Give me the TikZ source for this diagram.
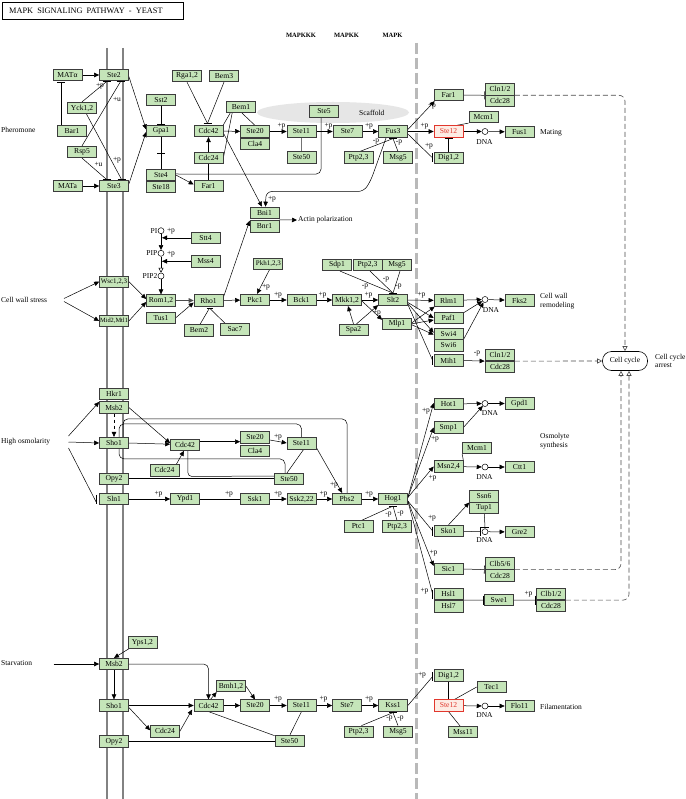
\documentclass[tikz,border=0pt]{standalone}
\usepackage{fontspec}
\setmainfont{Liberation Serif}
\usetikzlibrary{arrows.meta,calc}
\pgfdeclarelayer{back}
\pgfdeclarelayer{edges}
\pgfsetlayers{back,edges,main}
\definecolor{kgreen}{RGB}{197,229,185}
\definecolor{kedge}{RGB}{60,60,60}
\definecolor{kmemb}{RGB}{130,130,130}
\definecolor{knuc}{RGB}{185,185,185}
\definecolor{kred}{RGB}{225,55,45}
\definecolor{kpink}{RGB}{253,236,228}
\definecolor{kscaf}{RGB}{230,230,230}
\newcommand\kbh[1]{\draw[barst] ($(#1)+(-4,0)$) -- ($(#1)+(4,0)$);}
\newcommand\kbv[1]{\draw[barst] ($(#1)+(0,-4.5)$) -- ($(#1)+(0,4.5)$);}
\begin{document}
\begin{tikzpicture}[x=1pt,y=-1pt,
 gb/.style={draw=kedge,fill=kgreen,line width=0.7pt,minimum width=29pt,minimum height=11.5pt,inner sep=0pt,font=\fontsize{7.6}{8}\selectfont},
 rb/.style={gb,draw=kred,fill=kpink,text=kred},
 lab/.style={inner sep=0pt,font=\fontsize{7.5}{8}\selectfont},
 txt/.style={inner sep=0pt,anchor=west,align=left,font=\fontsize{7.5}{8.5}\selectfont},
 ar/.style={line width=0.5pt,-{Triangle[length=5pt,width=4.5pt]}},
 inh/.style={line width=0.5pt,-{Bar[width=8pt,line width=0.6pt]}},
 ln/.style={line width=0.5pt},
 barst/.style={line width=0.6pt},
 dsh/.style={line width=0.6pt,draw=black!70,dash pattern=on 5pt off 3pt,-{Triangle[open,length=5pt,width=5pt]}},
 dna/.style={circle,draw,line width=0.5pt,inner sep=0pt,minimum size=6pt,fill=white},
 hdr/.style={inner sep=0pt,font=\bfseries\fontsize{6.5}{7}\selectfont}
]
\useasboundingbox (0,0) rectangle (685,799);
\begin{pgfonlayer}{back}
\fill[white] (0,0) rectangle (685,799);
\draw[kmemb,line width=2.6pt] (107,48) -- (107,799);
\draw[kmemb,line width=2.6pt] (123,48) -- (123,799);
\draw[knuc,line width=3pt,dash pattern=on 11pt off 4pt] (416.5,43) -- (416.5,799);
\fill[kscaf] (333,112.5) ellipse [x radius=76pt, y radius=10.5pt];
\draw[line width=0.9pt] (2,2) rectangle (183,19);
\end{pgfonlayer}

\node[anchor=west,inner sep=0pt,font=\fontsize{8.3}{9}\selectfont] (title) at (9,11) {MAPK\ \ SIGNALING\ \ PATHWAY\ \ -\ \ YEAST};
\node[hdr] (hk3) at (301,35) {MAPKKK};
\node[hdr] (hk2) at (346.5,35) {MAPKK};
\node[hdr] (hk1) at (392.5,35) {MAPK};
\node[txt] (scaf) at (359,113) {Scaffold};

% stimulus labels
\node[txt] (pher) at (1,130) {Pheromone};
\node[txt] (cws) at (1,300) {Cell wall stress};
\node[txt] (hos) at (1,442) {High osmolarity};
\node[txt] (starv) at (1,663.5) {Starvation};

% ---------- pheromone ----------
\node[gb] (MATal) at (67.5,75) {MATα};
\node[gb] (Ste2) at (114,75) {Ste2};
\node[gb] (Yck) at (82,108) {Yck1,2};
\node[gb] (Bar1) at (72,131) {Bar1};
\node[gb] (Rsp5) at (82,152) {Rsp5};
\node[gb] (MATa) at (67.5,186) {MATa};
\node[gb] (Ste3) at (114,186) {Ste3};
\node[gb] (Sst2) at (161,100) {Sst2};
\node[gb] (Gpa1) at (161,131) {Gpa1};
\node[gb] (Ste4) at (161,175) {Ste4};
\node[gb] (Ste18) at (161,187) {Ste18};
\node[gb] (Rga) at (187,76) {Rga1,2};
\node[gb] (Bem3) at (224,76) {Bem3};
\node[gb] (Cdc42a) at (208.5,131) {Cdc42};
\node[gb] (Cdc24a) at (208.5,158) {Cdc24};
\node[gb] (Far1a) at (208.5,186) {Far1};
\node[gb] (Bem1) at (241,107) {Bem1};
\node[gb] (Ste5) at (324,111.5) {Ste5};
\node[gb] (Ste20a) at (255,131.5) {Ste20};
\node[gb] (Cla4a) at (255,144) {Cla4};
\node[gb] (Ste11a) at (301.5,131.5) {Ste11};
\node[gb] (Ste50a) at (301.5,157.5) {Ste50};
\node[gb] (Ste7a) at (347.5,131.5) {Ste7};
\node[gb] (Fus3) at (393,131.5) {Fus3};
\node[gb] (Ptp23a) at (358.5,157.5) {Ptp2,3};
\node[gb] (Msg5a) at (398,157.5) {Msg5};
\node[gb] (Far1b) at (448.5,95) {Far1};
\node[rb] (Ste12a) at (448.5,131.5) {Ste12};
\node[gb] (Dig12a) at (448.5,158) {Dig1,2};
\node[gb] (Cln12a) at (500,89.2) {Cln1/2};
\node[gb] (Cdc28a) at (500,101) {Cdc28};
\node[gb] (Mcm1a) at (483.5,117) {Mcm1};
\node[dna] (DNA1) at (485,131.5) {};
\node[gb] (Fus1) at (519.5,132) {Fus1};
\node[lab] (dna1l) at (484.5,142) {DNA};
\node[txt] (mating) at (540,133) {Mating};
\node[gb] (Bni1) at (264.5,212.8) {Bni1};
\node[gb] (Bnr1) at (264.5,226.3) {Bnr1};
\node[txt] (actin) at (298,220) {Actin polarization};

% ---------- cell wall ----------
\node[dna] (PI) at (161,230.7) {};
\node[dna] (PIP) at (161,253.3) {};
\node[dna] (PIP2) at (161,276) {};
\node[lab,anchor=east] (PIl) at (157.5,230.7) {PI};
\node[lab,anchor=east] (PIPl) at (157.5,253.3) {PIP};
\node[lab,anchor=east] (PIP2l) at (157.5,276) {PIP2};
\node[gb] (Stt4) at (205.5,237.8) {Stt4};
\node[gb] (Mss4) at (205.5,261.3) {Mss4};
\node[gb,font=\fontsize{7}{8}\selectfont] (Wsc) at (114,281.7) {Wsc1,2,3};
\node[gb,font=\fontsize{6.4}{7}\selectfont] (Mid2) at (114,321) {Mid2,Mtl1};
\node[gb] (Rom12) at (161,300.5) {Rom1,2};
\node[gb] (Tus1) at (161,317.7) {Tus1};
\node[gb] (Rho1) at (208.5,300.5) {Rho1};
\node[gb] (Bem2) at (199,330.5) {Bem2};
\node[gb] (Sac7) at (235,329.5) {Sac7};
\node[gb,font=\fontsize{7}{8}\selectfont] (Pkh) at (268.3,264) {Pkh1,2,3};
\node[gb] (Pkc1) at (255,300) {Pkc1};
\node[gb] (Bck1) at (301.5,300) {Bck1};
\node[gb] (Mkk12) at (347,300) {Mkk1,2};
\node[gb] (Spa2) at (353.5,330) {Spa2};
\node[gb] (Slt2) at (393,300) {Slt2};
\node[gb] (Mlp1) at (397,323.8) {Mlp1};
\node[gb] (Sdp1) at (337,265) {Sdp1};
\node[gb] (Ptp23b) at (367.5,265) {Ptp2,3};
\node[gb] (Msg5b) at (397,265) {Msg5};
\node[gb] (Rlm1) at (448.5,300.5) {Rlm1};
\node[gb] (Paf1) at (448.5,318) {Paf1};
\node[gb] (Swi4) at (448.5,333.7) {Swi4};
\node[gb] (Swi6) at (448.5,345.3) {Swi6};
\node[gb] (Mih1) at (448.5,360.5) {Mih1};
\node[dna] (DNA2) at (485,299.5) {};
\node[gb] (Fks2) at (519.5,300.5) {Fks2};
\node[lab] (dna2l) at (491,310) {DNA};
\node[txt,font=\fontsize{7.5}{9}\selectfont] (cwr) at (540,301) {Cell wall\\remodeling};
\node[gb] (Cln12b) at (500,355) {Cln1/2};
\node[gb] (Cdc28b) at (500,367) {Cdc28};
\node[draw,fill=white,rounded corners=9pt,minimum width=45pt,minimum height=19pt,inner sep=0pt,line width=0.6pt,font=\fontsize{7.5}{8}\selectfont] (cc) at (625,361) {Cell cycle};
\node[txt,font=\fontsize{7.5}{8.5}\selectfont] (cca) at (655,361) {Cell cycle\\arrest};

% ---------- high osmolarity ----------
\node[gb] (Hkr1) at (114,394) {Hkr1};
\node[gb] (Msb2a) at (114,407.5) {Msb2};
\node[gb] (Sho1a) at (114,443) {Sho1};
\node[gb] (Opy2a) at (114,478.7) {Opy2};
\node[gb] (Sln1) at (114,499) {Sln1};
\node[gb] (Cdc42b) at (185,444.7) {Cdc42};
\node[gb] (Cdc24b) at (164.5,470.3) {Cdc24};
\node[gb] (Ypd1) at (185,499) {Ypd1};
\node[gb] (Ste20b) at (255,437.5) {Ste20};
\node[gb] (Cla4b) at (255,451) {Cla4};
\node[gb] (Ste11b) at (301.5,443.5) {Ste11};
\node[gb] (Ste50b) at (289,479) {Ste50};
\node[gb] (Ssk1) at (255,499) {Ssk1};
\node[gb] (Ssk22) at (301.5,499) {Ssk2,22};
\node[gb] (Pbs2) at (347,499) {Pbs2};
\node[gb] (Hog1) at (393,499) {Hog1};
\node[gb] (Ptc1) at (358.5,526.5) {Ptc1};
\node[gb] (Ptp23c) at (397,526.5) {Ptp2,3};
\node[gb] (Hot1) at (448.5,404) {Hot1};
\node[gb] (Smp1) at (448.5,427.5) {Smp1};
\node[gb] (Msn24) at (448.5,466.5) {Msn2,4};
\node[gb] (Sko1) at (448.5,531) {Sko1};
\node[gb] (Sic1) at (448.5,569) {Sic1};
\node[gb] (Hsl1) at (448.5,594) {Hsl1};
\node[gb] (Hsl7) at (448.5,606.2) {Hsl7};
\node[dna] (DNA3) at (485,403.5) {};
\node[gb] (Gpd1) at (519.5,403.5) {Gpd1};
\node[lab] (dna3l) at (490,413) {DNA};
\node[txt,font=\fontsize{7.5}{8.5}\selectfont] (osm) at (540,441) {Osmolyte\\synthesis};
\node[gb] (Mcm1b) at (477,448) {Mcm1};
\node[dna] (DNA4) at (485,467) {};
\node[gb] (Ctt1) at (519.5,467) {Ctt1};
\node[lab] (dna4l) at (484.5,477) {DNA};
\node[gb] (Ssn6) at (484,496.5) {Ssn6};
\node[gb] (Tup1) at (484,508) {Tup1};
\node[dna] (DNA5) at (485,531.7) {};
\node[gb] (Gre2) at (519.5,532) {Gre2};
\node[lab] (dna5l) at (484.5,540.5) {DNA};
\node[gb] (Clb56) at (500,563.5) {Clb5/6};
\node[gb] (Cdc28c) at (500,575.5) {Cdc28};
\node[gb] (Swe1) at (499,600) {Swe1};
\node[gb] (Clb12) at (551,594) {Clb1/2};
\node[gb] (Cdc28d) at (551,606) {Cdc28};

% ---------- starvation ----------
\node[gb] (Yps12) at (142.5,642.5) {Yps1,2};
\node[gb] (Msb2b) at (114,664) {Msb2};
\node[gb] (Sho1b) at (114,705.5) {Sho1};
\node[gb] (Opy2b) at (114,741.3) {Opy2};
\node[gb] (Cdc42c) at (208.5,705.5) {Cdc42};
\node[gb] (Cdc24c) at (165,731.3) {Cdc24};
\node[gb] (Bmh12) at (231,686) {Bmh1,2};
\node[gb] (Ste20c) at (255,705.5) {Ste20};
\node[gb] (Ste11c) at (301.5,705.5) {Ste11};
\node[gb] (Ste50c) at (289.5,740.8) {Ste50};
\node[gb] (Ste7c) at (347,705.5) {Ste7};
\node[gb] (Kss1) at (393,705.5) {Kss1};
\node[gb] (Ptp23d) at (358.5,731.7) {Ptp2,3};
\node[gb] (Msg5c) at (398,731.7) {Msg5};
\node[gb] (Dig12b) at (448.5,675.5) {Dig1,2};
\node[rb] (Ste12b) at (448.5,705.5) {Ste12};
\node[gb] (Tec1) at (491.5,687) {Tec1};
\node[gb] (Mss11) at (463,732) {Mss11};
\node[dna] (DNA6) at (485,706) {};
\node[gb] (Flo11) at (519.5,706) {Flo11};
\node[lab] (dna6l) at (484.5,715.5) {DNA};
\node[txt] (fil) at (540,706.5) {Filamentation};

% ---------- edge labels ----------
\node[lab] (q1) at (100,86.5) {+p};
\node[lab] (q2) at (117,99.5) {+u};
\node[lab] (q3) at (117,160) {+p};
\node[lab] (q4) at (98.5,164) {+u};
\node[lab] (q5) at (272,199) {+p};
\node[lab] (q6) at (281.5,126) {+p};
\node[lab] (q7) at (328.5,126) {+p};
\node[lab] (q8) at (369,126) {+p};
\node[lab] (q9) at (376,142) {-p};
\node[lab] (q10) at (399,142.5) {-p};
\node[lab] (q11) at (432,106.5) {+p};
\node[lab] (q12) at (424.5,126) {+p};
\node[lab] (q13) at (429,146) {+p};
\node[lab] (q14) at (171,231) {+p};
\node[lab] (q15) at (171,254) {+p};
\node[lab] (q16) at (266,287) {+p};
\node[lab] (q17) at (278,295.5) {+p};
\node[lab] (q18) at (322.5,295.5) {+p};
\node[lab] (q19) at (368.5,295.5) {+p};
\node[lab] (q20) at (377,313.5) {+p};
\node[lab] (q21) at (365,286.5) {-p};
\node[lab] (q22) at (386,280) {-p};
\node[lab] (q23) at (398.5,286.5) {-p};
\node[lab] (q24) at (421.5,295.5) {+p};
\node[lab] (q25) at (477,354) {-p};
\node[lab] (q26) at (278,437) {+p};
\node[lab] (q27) at (334,485) {+p};
\node[lab] (q28) at (158.5,494.5) {+p};
\node[lab] (q29) at (229,494) {+p};
\node[lab] (q30) at (278,494.5) {+p};
\node[lab] (q31) at (323.5,494.5) {+p};
\node[lab] (q32) at (369,494.5) {+p};
\node[lab] (q33) at (388.5,515) {-p};
\node[lab] (q34) at (400.5,513.5) {-p};
\node[lab] (q35) at (426,411.5) {+p};
\node[lab] (q36) at (435,439.5) {+p};
\node[lab] (q37) at (432.5,478.5) {+p};
\node[lab] (q38) at (432,518.5) {+p};
\node[lab] (q39) at (433.5,553.5) {+p};
\node[lab] (q40) at (424.5,591) {+p};
\node[lab] (q41) at (528.5,594) {+p};
\node[lab] (q42) at (278,699.5) {+p};
\node[lab] (q43) at (323.5,699.5) {+p};
\node[lab] (q44) at (369,699.5) {+p};
\node[lab] (q45) at (389.5,718.5) {-p};
\node[lab] (q46) at (400.5,718.5) {-p};
\node[lab] (q47) at (422,675) {+p};

\begin{pgfonlayer}{edges}
% pheromone
\draw[ar] (MATal) -- (Ste2);
\draw[ar] (MATa) -- (Ste3);
\coordinate (bMA) at ($(MATal.south)+(-6.5,1.5)$);
\draw[ln] ($(Bar1.north)+(-11,0)$) -- (bMA); \kbh{bMA}
\coordinate (bS2a) at ($(Ste2.south)+(-7.5,0.5)$);
\coordinate (bS2b) at ($(Ste2.south)+(6.5,0.5)$);
\coordinate (bS3a) at ($(Ste3.north)+(-7.5,-0.5)$);
\coordinate (bS3b) at ($(Ste3.north)+(7.5,-0.5)$);
\draw[ln] (Yck.north) -- (bS2a); \kbh{bS2a}
\draw[ln] (Rsp5.north) -- (bS2b); \kbh{bS2b}
\draw[ln] ($(Yck.south)+(4.5,0)$) -- (bS3b); \kbh{bS3b}
\draw[ln] (Rsp5.south) -- (bS3a); \kbh{bS3a}
\draw[ar] ($(Ste2.east)+(0,1.5)$) -- ($(Gpa1.west)+(0,-1.5)$);
\draw[ar] ($(Ste3.east)+(0,-2)$) -- ($(Gpa1.west)+(0,1)$);
\draw[inh] (Sst2) -- (Gpa1);
\draw[ln] (Gpa1) -- (Ste4);
\coordinate (bG) at ($(Gpa1.south)!0.5!(Ste4.north)$); \kbh{bG}
\coordinate (bC42) at ($(Cdc42a.north)+(-1,-1.5)$);
\draw[ln] (Rga.south) -- (bC42);
\draw[ln] (Bem3.south) -- (bC42); \kbh{bC42}
\draw[ar] (Cdc24a) -- (Cdc42a);
\draw[ln] (Cdc24a) -- (Far1a);
\draw[ar] (Ste4.east) -- ($(Far1a.west)+(0,-1.5)$);
\draw[ln,rounded corners=5pt] ($(Ste4.east)+(0,-1)$) -- ($(Ste5.south)+(-3,56.5)$) -- ($(Ste5.south)+(-3,0)$);
\draw[ar] (Cdc42a) -- (Ste20a);
\draw[ln] ($(Bem1.south west)+(4,0)$) -- (Cdc42a.north east);
\draw[ln] ($(Bem1.south west)+(6,0)$) -- (Cdc24a.east);
\draw[ln] ($(Bem1.south)+(1,0)$) -- (Ste20a.north);
\draw[ar] ($(Cdc42a.east)+(0,2)$) -- ($(Bni1.north)+(-2.5,0)$);
\draw[ar,rounded corners=6pt] ($(Fus3.south west)+(8,0)$) -- (371,180) -- (364,191.5) -- (266,191.5) -- ($(Bni1.north)+(1,0)$);
\draw[ar] (Bni1.south east) ++(0,1) -- ($(actin.west)+(-1,0)$);
\draw[ar] (Ste20a) -- (Ste11a);
\draw[ar] (Ste11a) -- (Ste7a);
\draw[ar] (Ste7a) -- (Fus3);
\draw[ln,draw=black!55] (Ste11a) -- (Ste50a);
\coordinate (bF3) at ($(Fus3.south)+(0,1)$);
\draw[ln] ($(Ptp23a.north)+(1.5,0)$) -- (bF3);
\draw[ln] (Msg5a.north) -- (bF3); \kbh{bF3}
\draw[ar] ($(Fus3.east)+(0,-2)$) -- ($(Far1b.south west)+(1,0)$);
\draw[ar] (Fus3) -- (Ste12a);
\coordinate (bD1) at ($(Dig12a.west)+(-1,0)$);
\draw[ln] ($(Fus3.east)+(0,2.5)$) -- (bD1); \kbv{bD1}
\draw[inh] (Dig12a) -- (Ste12a);
\draw[ln] ($(Ste12a.north east)+(-7,0)$) -- (Mcm1a.south west);
\draw[ar] (Ste12a) -- (DNA1);
\draw[ar] (DNA1) -- (Fus1);
\draw[inh] (Far1b.east) -- ($(Cln12a.south west)+(-0.5,0)$);
\draw[dsh,rounded corners=6pt] (Cln12a.south east) -- (cc.north |- Cln12a.south east) -- (cc.north);

% cell wall
\coordinate (cw) at (64,300);
\draw[ar] ($(cw)+(0,-1.5)$) -- (Wsc.west);
\draw[ar] ($(cw)+(0,1.5)$) -- (Mid2.west);
\draw[ar] (Wsc.east) -- ($(Rom12.west)+(0,-1.5)$);
\draw[ar] (Mid2.east) -- ($(Rom12.west)+(0,1.5)$);
\draw[ar] (PI) -- (PIP);
\draw[ln,-{Triangle[open,length=5pt,width=5pt]}] (PIP) -- (PIP2);
\draw[ar] (PIP2) -- (Rom12);
\draw[ar] (Stt4.west) -- ($(Stt4.west -| PI)+(1,0)$);
\draw[ar] (Mss4.west) -- ($(Mss4.west -| PIP)+(1,0)$);
\draw[ar,line width=1.2pt,draw=black!70] (Rom12) -- (Rho1);
\draw[ar] (Tus1.east) -- ($(Rho1.west)+(0,2)$);
\coordinate (bR) at ($(Rho1.south)+(1,1.5)$);
\draw[ln] ($(Bem2.north)+(1,0)$) -- (bR);
\draw[ln] ($(Sac7.north west)+(5,0)$) -- (bR);
\draw[barst] ($(bR)+(-3,0)$) -- ($(bR)+(3,0)$);
\draw[ar] ($(Rho1.east)+(0,-3)$) -- ($(Bnr1.north west)+(0,0.5)$);
\draw[ar] (Rho1) -- (Pkc1);
\draw[ar] ($(Pkh.south)+(1,0)$) -- ($(Pkc1.north)+(2,0)$);
\draw[ar] (Pkc1) -- (Bck1);
\draw[ar] (Bck1) -- (Mkk12);
\draw[ar] (Mkk12) -- (Slt2);
\draw[ar] (Spa2.north) -- ($(Mkk12.south)+(1,0)$);
\draw[ar] ($(Spa2.north)+(3,0)$) -- ($(Slt2.south west)+(0,-1)$);
\draw[ar] ($(Mkk12.east)+(0,1)$) -- ($(Mlp1.west)+(0,-4)$);
\coordinate (bSl) at ($(Slt2.north)+(0,-0.8)$);
\draw[ln] ($(Sdp1.south)+(3,0)$) -- (bSl);
\draw[ln] ($(Ptp23b.south)+(2.5,0)$) -- (bSl);
\draw[ln] ($(Msg5b.south)+(3,0)$) -- (bSl); \kbh{bSl}
\draw[ar] (Slt2) -- (Rlm1);
\draw[ar] ($(Slt2.east)+(0,2.5)$) -- (Paf1.west);
\draw[ar] ($(Slt2.east)+(0,3.5)$) -- ($(Swi4.west)+(0,-1)$);
\coordinate (bMi) at ($(Mih1.west)+(-1,0)$);
\draw[ln] ($(Slt2.east)+(0,4.5)$) -- (bMi); \kbv{bMi}
\draw[ar] ($(Mlp1.east)+(0,-1)$) -- ($(Rlm1.south west)+(1,0)$);
\draw[ar] (Mlp1.east) -- ($(Paf1.west)+(0,2)$);
\draw[ar] ($(Mlp1.east)+(0,1)$) -- ($(Swi4.west)+(0,1)$);
\draw[ar] (Rlm1) -- (DNA2);
\draw[ar] (DNA2) -- (Fks2);
\draw[ar] ($(Paf1.north east)+(0,1)$) -- (DNA2);
\draw[ar] (Swi4.south east) -- (DNA2);
\draw[ar] (Mih1.east) -- ($(Cln12b.south west)+(-0.5,0)$);
\draw[dsh] (Cln12b.south east) -- (cc.west);

% high osmolarity
\coordinate (ho) at (68.5,442);
\draw[ar] ($(ho)+(0,-6)$) -- ($(Msb2a.north west)+(0,0.5)$);
\draw[ar] (ho) -- (Sho1a.west);
\coordinate (bSn) at ($(Sln1.west)+(-3,0)$);
\draw[ln] ($(ho)+(0,6)$) -- ($(bSn)+(0,3)$); \kbv{bSn}
\draw[ar,dashed] (Msb2a) -- (Sho1a);
\draw[ar] (Msb2a.east) -- ($(Cdc42b.west)+(0,-1.5)$);
\draw[ar] (Sho1a.east) -- ($(Cdc42b.west)+(0,-0.5)$);
\draw[ar] ($(Cdc24b.north east)+(-3,0)$) -- ($(Cdc42b.south)+(-1,0)$);
\draw[ar] ($(Cdc42b.east)+(0,-3)$) -- ($(Ste20b.west)+(0,4.2)$);
\draw[ln,rounded corners=4pt] ($(Cdc42b.south east)+(-12,0)$) -- ($(Cdc42b.south east)+(-12,25.7)$) -- ($(Ste50b.west)+(0,-3)$);
\draw[ln] (Opy2a.east) -- (Opy2a.east -| Ste50b.west);
\coordinate (top1) at ($(Sho1a.north)+(9,-18)$);
\draw[ln,rounded corners=5pt] ($(Sho1a.north)+(9,0)$) -- (top1) -- (top1 -| Pbs2.north) -- (Pbs2.north);
\coordinate (top2) at ($(Sho1a.north)+(5,-13)$);
\coordinate (bot2) at ($(top2)+(0,35)$);
\coordinate (s50) at ($(Ste50b.north)+(-4,0)$);
\draw[ln,rounded corners=5pt] (Ste11b.north) -- (top2 -| Ste11b.north) -- (top2) -- (bot2) -- (bot2 -| s50) -- (s50);
\draw[ar] ($(Ste20b.east)+(0,2.5)$) -- ($(Ste11b.west)+(0,-0.5)$);
\draw[ln] ($(Ste11b.south)+(2,0)$) -- ($(Ste50b.north)+(-2,0)$);
\draw[ar] ($(Ste11b.south east)+(0,-2)$) -- ($(Pbs2.north west)+(10,0)$);
\draw[ar] (Sln1) -- (Ypd1);
\draw[inh] (Ypd1) -- (Ssk1);
\draw[ar] (Ssk1) -- (Ssk22);
\draw[ar] (Ssk22) -- (Pbs2);
\draw[ar] (Pbs2) -- (Hog1);
\coordinate (bH) at ($(Hog1.south)+(0,1)$);
\draw[ln] ($(Ptc1.north)+(3,0)$) -- (bH);
\draw[ln] (Ptp23c.north) -- (bH); \kbh{bH}
\coordinate (hgU) at ($(Hog1.east)+(0,-1.5)$);
\coordinate (hgD) at ($(Hog1.east)+(0,2)$);
\draw[ar] (hgU) -- ($(Hot1.west)+(0,-1)$);
\draw[ar] (hgU) -- (Smp1.west);
\draw[ar] (hgU) -- (Msn24.west);
\coordinate (bSk) at ($(Sko1.west)+(-1,0)$);
\draw[ln] (hgD) -- (bSk); \kbv{bSk}
\draw[ar] (hgD) -- ($(Sic1.west)+(0,-3)$);
\coordinate (bHs) at ($(Hsl1.west)+(-1,0)$);
\draw[ln] (hgD) -- (bHs); \kbv{bHs}
\draw[ar] (Hot1) -- (DNA3);
\draw[ar] (DNA3) -- (Gpd1);
\draw[ar] (Smp1.east) -- (DNA3);
\draw[ln] (Msn24.north east) -- (Mcm1b.south west);
\draw[ar] (Msn24) -- (DNA4);
\draw[ar] (DNA4) -- (Ctt1);
\draw[ar] (Sko1.north) -- (Ssn6.south west);
\coordinate (bD5w) at ($(DNA5.west)+(-1,0)$);
\draw[ln] (Sko1) -- (bD5w); \kbv{bD5w}
\coordinate (bD5n) at ($(DNA5.north)+(0,-1)$);
\draw[ln] (Tup1) -- (bD5n); \kbh{bD5n}
\draw[ar] (DNA5) -- (Gre2);
\draw[inh] (Sic1.east) -- ($(Clb56.south west)+(-0.5,0)$);
\coordinate (ccL) at ($(cc.south)+(-4,0)$);
\coordinate (ccR) at ($(cc.south)+(4,0)$);
\draw[dsh,rounded corners=6pt] (Clb56.south east) -- (ccL |- Clb56.south east) -- (ccL);
\coordinate (bSw) at ($(Swe1.west)+(-1,0)$);
\draw[ln] (Hsl1.south east) -- (bSw); \kbv{bSw}
\coordinate (bCl) at ($(Clb12.south west)+(-1,0)$);
\draw[ln] (Swe1.east) -- (bCl); \kbv{bCl}
\draw[dsh,rounded corners=6pt] (Clb12.south east) -- (ccR |- Clb12.south east) -- (ccR);

% starvation
\coordinate (sv) at (53.5,664);
\draw[ar] (sv) -- (Msb2b.west);
\draw[ar] ($(Yps12.south west)+(1.5,0)$) -- (Msb2b.north);
\draw[ar] (Msb2b) -- (Sho1b);
\draw[ar,rounded corners=5pt] (Msb2b.east) -- (Msb2b.east -| Cdc42c.north) -- (Cdc42c.north);
\draw[ar] (Sho1b) -- (Cdc42c);
\draw[ar] ($(Sho1b.east)+(0,2)$) -- ($(Cdc24c.west)+(0,-1)$);
\draw[ar] (Cdc24c.east) -- ($(Cdc42c.south west)+(-1.5,-2)$);
\draw[ar] ($(Cdc42c.north)+(2,0)$) -- ($(Bmh12.south west)+(0.5,0)$);
\draw[ar] (Bmh12.east) -- (Ste20c.north);
\draw[ar] (Cdc42c) -- (Ste20c);
\draw[ln] (Cdc42c.south) -- ($(Ste50c.north west)+(0,1)$);
\draw[ln] (Opy2b.east) -- (Opy2b.east -| Ste50c.west);
\draw[ar] (Ste20c) -- (Ste11c);
\draw[ln] (Ste11c.south) -- ($(Ste50c.north)+(0.5,0)$);
\draw[ar] (Ste11c) -- (Ste7c);
\draw[ar] (Ste7c) -- (Kss1);
\coordinate (bK) at ($(Kss1.south)+(0,1)$);
\draw[ln] ($(Ptp23d.north)+(3,0)$) -- (bK);
\draw[ln] (Msg5c.north) -- (bK); \kbh{bK}
\coordinate (bDg) at ($(Dig12b.west)+(-1,1)$);
\draw[ln] (Kss1.east) -- (bDg); \kbv{bDg}
\draw[inh] (Dig12b) -- (Ste12b);
\draw[ln] ($(Ste12b.north)+(6,0)$) -- (Tec1.west);
\draw[ln] (Ste12b.south) -- ($(Mss11.north)+(-3,0)$);
\draw[ar] (Ste12b) -- (DNA6);
\draw[ar] (DNA6) -- (Flo11);
\end{pgfonlayer}
\end{tikzpicture}
\end{document}
